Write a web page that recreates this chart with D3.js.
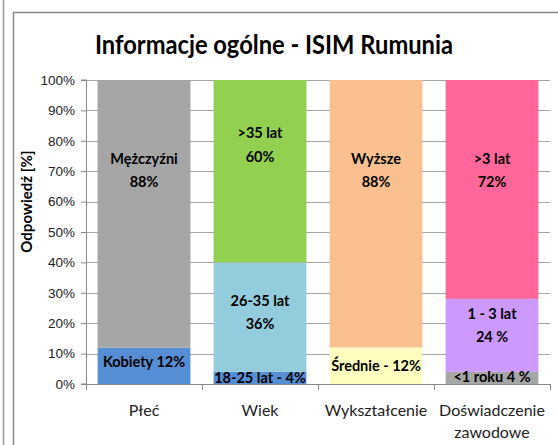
<!DOCTYPE html>
<html>
<head>
<meta charset="utf-8">
<script src="https://cdn.jsdelivr.net/npm/d3@7"></script>
<style>
  body { margin: 0; background: #fff; }
  svg { display: block; font-family: Lato, 'Open Sans', sans-serif; }
  .grid line { stroke: #a6a6a6; stroke-width: 1; }
  .axis path, .axis line { stroke: #888; }
  .axis text { fill: #222; }
</style>
</head>
<body>
<svg width="558" height="445"></svg>
<script>
(function() {
  'use strict';

  const categories = ['Płeć', 'Wiek', 'Wykształcenie', 'Doświadczenie zawodowe'];
  // segments per category, bottom to top
  const segNames = [
    ['Kobiety 12%', 'Mężczyźni|88%'],
    ['18-25 lat - 4%', '26-35 lat|36%', '>35 lat|60%'],
    ['Średnie - 12%', 'Wyższe|88%'],
    ['<1  roku 4 %', '1 - 3 lat|24 %', '>3 lat|72%'],
  ];
  const segValues = [
    [12, 88],
    [4, 36, 60],
    [12, 88],
    [4, 24, 72],
  ];
  const segColors = [
    ['#558ed5', '#a6a6a6'],
    ['#558ed5', '#93cddd', '#92d050'],
    ['#ffffc0', '#fac090'],
    ['#a6a6a6', '#cc99ff', '#ff6699'],
  ];
  // where each label sits, in percent on the value axis
  const labelAt = [
    [7.2, 70.7],
    [2.0, 24.0, 79.0],
    [5.8, 70.7],
    [2.3, 19.7, 70.7],
  ];
  const yTicks = [0, 10, 20, 30, 40, 50, 60, 70, 80, 90, 100];

  const svg = d3.select('svg');
  const margin = {top: 80, left: 86, right: 8, bottom: 61};
  const width = 558 - margin.left - margin.right;
  const height = 445 - margin.top - margin.bottom;

  // outer frames
  svg.append('line')
      .attr('x1', 3.5).attr('x2', 3.5).attr('y1', 0).attr('y2', 445)
      .attr('stroke', '#999').attr('stroke-width', 1.5);
  svg.append('path')
      .attr('d', 'M13.5,445V12.5H558')
      .attr('fill', 'none').attr('stroke', '#8a8a8a').attr('stroke-width', 1.5);

  svg.append('text')
      .attr('x', 274).attr('y', 54)
      .attr('text-anchor', 'middle')
      .attr('font-size', 26).attr('font-weight', 'bold')
      .attr('textLength', 358).attr('lengthAdjust', 'spacingAndGlyphs')
      .text('Informacje ogólne - ISIM Rumunia');

  const g = svg.append('g')
      .attr('transform', 'translate(' + margin.left + ',' + margin.top + ')');

  const x = d3.scaleBand()
      .domain(categories)
      .range([0, width])
      .paddingInner(0.2)
      .paddingOuter(0.1);

  const y = d3.scaleLinear()
      .domain([0, 100])
      .range([height, 0]);

  g.append('g')
      .attr('class', 'grid')
      .selectAll('line')
      .data(yTicks.slice(1))
      .join('line')
      .attr('x1', 0).attr('x2', width)
      .attr('y1', (d) => Math.round(y(d)) + 0.5)
      .attr('y2', (d) => Math.round(y(d)) + 0.5);

  const rows = [];
  categories.forEach((c, i) => {
    let base = 0;
    segValues[i].forEach((v, j) => {
      rows.push({cat: c, y0: base, y1: base + v, color: segColors[i][j],
        name: segNames[i][j], at: labelAt[i][j]});
      base += v;
    });
  });

  g.selectAll('rect.seg')
      .data(rows)
      .join('rect')
      .attr('class', 'seg')
      .attr('x', (d) => x(d.cat))
      .attr('width', x.bandwidth())
      .attr('y', (d) => y(d.y1))
      .attr('height', (d) => y(d.y0) - y(d.y1))
      .attr('fill', (d) => d.color);

  const labels = g.selectAll('text.lbl')
      .data(rows)
      .join('text')
      .attr('class', 'lbl')
      .attr('text-anchor', 'middle')
      .attr('font-size', 14.5).attr('font-weight', 'bold')
      .attr('fill', '#000')
      .attr('x', (d) => x(d.cat) + x.bandwidth() / 2)
      .attr('y', (d) => y(d.at));
  labels.each(function(d) {
    const parts = d.name.split('|');
    const t = d3.select(this);
    parts.forEach((p, k) => {
      t.append('tspan')
          .attr('x', x(d.cat) + x.bandwidth() / 2)
          .attr('dy', k === 0 ? (parts.length > 1 ? '-0.38em' : '0.35em') : '1.6em')
          .text(p);
    });
  });

  const yAxis = g.append('g')
      .attr('class', 'axis')
      .call(d3.axisLeft(y)
          .tickValues(yTicks)
          .tickSize(5)
          .tickPadding(6)
          .tickFormat((d) => d + '%'));
  yAxis.select('.domain').attr('d', 'M-5,' + height + 'H0.5V0H-5');
  yAxis.selectAll('text').attr('font-size', 13.5);

  const xAxis = g.append('g')
      .attr('class', 'axis')
      .attr('transform', 'translate(0,' + height + ')');
  xAxis.append('line')
      .attr('x1', 0).attr('x2', width).attr('y1', 0.5).attr('y2', 0.5)
      .attr('stroke', '#888');
  xAxis.selectAll('line.tk')
      .data(d3.range(categories.length + 1))
      .join('line')
      .attr('class', 'tk')
      .attr('x1', (d) => Math.round(d * width / categories.length) + 0.5)
      .attr('x2', (d) => Math.round(d * width / categories.length) + 0.5)
      .attr('y1', 0).attr('y2', 6)
      .attr('stroke', '#888');
  xAxis.selectAll('text')
      .data(categories)
      .join('text')
      .attr('text-anchor', 'middle')
      .attr('font-size', 16)
      .attr('fill', '#222')
      .attr('x', (d) => x(d) + x.bandwidth() / 2)
      .attr('y', 32)
      .each(function(d) {
        const words = d.split(' ');
        const t = d3.select(this);
        words.forEach((w, k) => {
          t.append('tspan')
              .attr('x', x(d) + x.bandwidth() / 2)
              .attr('dy', k === 0 ? 0 : '1.4em')
              .text(w);
        });
      });

  svg.append('text')
      .attr('transform', 'translate(32,' + (margin.top + y(60)) + ') rotate(-90)')
      .attr('text-anchor', 'middle')
      .attr('font-size', 15).attr('font-weight', 'bold')
      .text('Odpowiedź [%]');
})();
</script>
</body>
</html>
